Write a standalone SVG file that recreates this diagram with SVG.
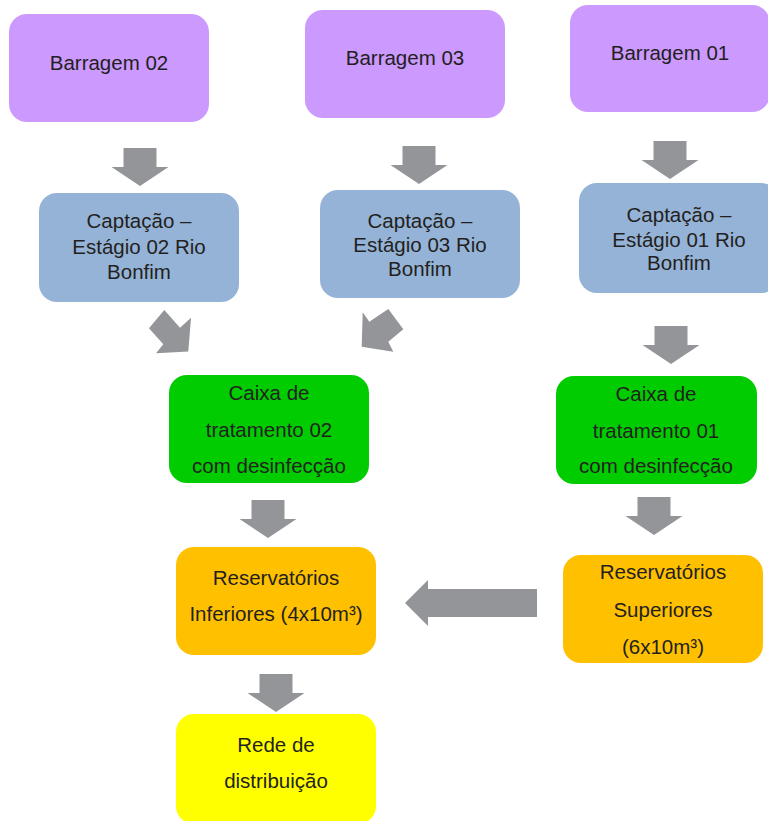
<svg xmlns="http://www.w3.org/2000/svg" width="768" height="821" viewBox="0 0 768 821">
<defs>
<style>
.t{font-family:"Liberation Sans",Arial,sans-serif;font-size:20.5px;fill:#231f20;text-anchor:middle}
.p{fill:#cc99ff}.b{fill:#95b3d7}.g{fill:#00cc00}.o{fill:#ffc000}.y{fill:#ffff00}
.ar{fill:#939598}
</style>
<path id="down" d="M-16.5,-19 H16.5 V0 H28.5 L0,19 L-28.5,0 H-16.5 Z"/>
</defs>
<rect width="768" height="821" fill="#ffffff"/>
<g id="connectors" class="ar">
<use href="#down" x="140" y="167"/>
<use href="#down" x="419" y="165"/>
<use href="#down" x="670" y="160"/>
<polygon points="164.3,310 180,327.7 191,317.7 188.3,351.5 156,353.3 163.3,344.3 149,328.3"/>
<polygon points="362.7,312.3 369.3,321.7 388.3,309 403.3,329.3 388.3,341.7 393.3,351.7 361.7,346.7"/>
<use href="#down" x="671" y="345"/>
<use href="#down" x="268" y="519"/>
<use href="#down" x="654" y="516"/>
<polygon points="537,589 537,617 428,617 428,626 405,603 428,580 428,589"/>
<use href="#down" x="276" y="693"/>
</g>
<g id="barragem02"><rect class="p" x="9" y="14" width="200" height="108" rx="18"/><text class="t" x="109" y="70">Barragem 02</text></g>
<g id="barragem03"><rect class="p" x="305" y="10" width="200" height="108" rx="18"/><text class="t" x="405" y="65">Barragem 03</text></g>
<g id="barragem01"><rect class="p" x="570" y="5" width="200" height="107" rx="18"/><text class="t" x="670" y="60">Barragem 01</text></g>
<g id="captacao02"><rect class="b" x="39" y="193" width="200" height="109" rx="18"/><text class="t" x="139" y="228">Captação –</text><text class="t" x="139" y="254">Estágio 02 Rio</text><text class="t" x="139" y="279">Bonfim</text></g>
<g id="captacao03"><rect class="b" x="320" y="190" width="200" height="108" rx="18"/><text class="t" x="420" y="228">Captação –</text><text class="t" x="420" y="252">Estágio 03 Rio</text><text class="t" x="420" y="276">Bonfim</text></g>
<g id="captacao01"><rect class="b" x="579" y="183" width="200" height="110" rx="18"/><text class="t" x="679" y="222">Captação –</text><text class="t" x="679" y="247">Estágio 01 Rio</text><text class="t" x="679" y="270">Bonfim</text></g>
<g id="caixa02"><rect class="g" x="169" y="375" width="200" height="108" rx="18"/><text class="t" x="269" y="400">Caixa de</text><text class="t" x="269" y="437">tratamento 02</text><text class="t" x="269" y="473">com desinfecção</text></g>
<g id="caixa01"><rect class="g" x="556" y="376" width="201" height="108" rx="18"/><text class="t" x="656" y="401">Caixa de</text><text class="t" x="656" y="438">tratamento 01</text><text class="t" x="656" y="473">com desinfecção</text></g>
<g id="resInferiores"><rect class="o" x="176" y="547" width="200" height="108" rx="18"/><text class="t" x="276" y="585">Reservatórios</text><text class="t" x="276" y="621">Inferiores (4x10m³)</text></g>
<g id="resSuperiores"><rect class="o" x="563" y="555" width="200" height="108" rx="18"/><text class="t" x="663" y="579">Reservatórios</text><text class="t" x="663" y="617">Superiores</text><text class="t" x="663" y="654">(6x10m³)</text></g>
<g id="rede"><rect class="y" x="176" y="714" width="200" height="110" rx="18"/><text class="t" x="276" y="752">Rede de</text><text class="t" x="276" y="788">distribuição</text></g>
</svg>
